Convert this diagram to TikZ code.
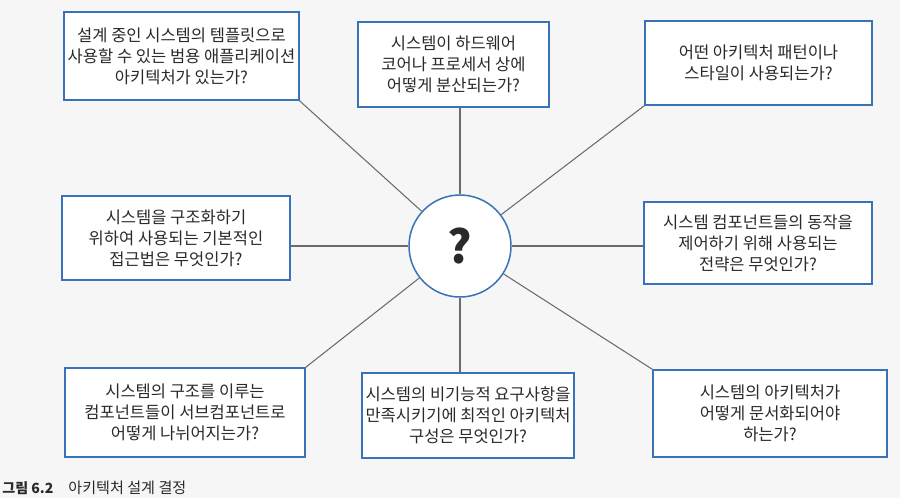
\documentclass[tikz,border=0pt]{standalone}
\usepackage{fontspec}
\setmainfont{Noto Sans CJK KR}
\usepackage{tikz}
\usetikzlibrary{positioning}
\definecolor{FrameBlue}{HTML}{3A72B8}
\definecolor{SpokeGray}{HTML}{6B6B6B}
\definecolor{InkText}{HTML}{2A2A2A}
\definecolor{PaperGray}{HTML}{F6F6F6}

\begin{document}
\begin{tikzpicture}[
  x=0.02cm, y=-0.02cm,
  % ── question box ────────────────────────────────────────────────────────
  qbox/.style={
    draw=FrameBlue, fill=white, line width=0.85pt,
    align=center, inner sep=2pt,
    text=InkText, font=\fontsize{9.4}{11.9}\selectfont
  },
  % ── central decision circle ─────────────────────────────────────────────
  hub/.style={
    circle, draw=FrameBlue, fill=white, line width=0.85pt,
    minimum size=2.04cm, inner sep=0pt,
    text=InkText, font=\fontsize{26}{28}\selectfont\bfseries
  },
  % ── spokes ──────────────────────────────────────────────────────────────
  spoke/.style={draw=SpokeGray, line width=0.6pt},
  caption/.style={anchor=west, inner sep=0pt, text=InkText},
]

%% ── Page background (fixes the bounding box) ──
\fill[PaperGray] (0,0) rectangle (900,498);

%% ── Centre ──
\node[hub] (Q) at (460,246) {?};

%% ── Question boxes, clockwise from top left ──
\node[qbox, minimum width=4.62cm, minimum height=1.76cm] (TPL)  at (181.5,56)
  {설계 중인 시스템의 템플릿으로\\사용할 수 있는 범용 애플리케이션\\아키텍처가 있는가?};
\node[qbox, minimum width=3.82cm, minimum height=1.70cm] (DIST) at (453.5,64.5)
  {시스템이 하드웨어\\코어나 프로세서 상에\\어떻게 분산되는가?};
\node[qbox, minimum width=4.54cm, minimum height=1.68cm] (PAT)  at (758.5,63)
  {어떤 아키텍처 패턴이나\\스타일이 사용되는가?};
\node[qbox, minimum width=4.56cm, minimum height=1.64cm] (CTRL) at (758,243)
  {시스템 컴포넌트들의 동작을\\제어하기 위해 사용되는\\전략은 무엇인가?};
\node[qbox, minimum width=4.68cm, minimum height=1.74cm] (DOC)  at (770,413.5)
  {시스템의 아키텍처가\\어떻게 문서화되어야\\하는가?};
\node[qbox, minimum width=4.20cm, minimum height=1.70cm] (NFR)  at (468,415.5)
  {시스템의 비기능적 요구사항을\\만족시키기에 최적인 아키텍처\\구성은 무엇인가?};
\node[qbox, minimum width=4.80cm, minimum height=1.78cm] (DEC)  at (185,412.5)
  {시스템의 구조를 이루는\\컴포넌트들이 서브컴포넌트로\\어떻게 나뉘어지는가?};
\node[qbox, minimum width=4.56cm, minimum height=1.68cm] (APP)  at (176,238)
  {시스템을 구조화하기\\위하여 사용되는 기본적인\\접근법은 무엇인가?};

%% ── Spokes from the centre ──
\draw[spoke] (Q) -- (TPL.south east);
\draw[spoke] (Q.north) -- (Q.north |- DIST.south);
\draw[spoke] (Q) -- (PAT.south west);
\draw[spoke] (Q.east) -- (Q.east -| CTRL.west);
\draw[spoke] (Q) -- (DOC.north west);
\draw[spoke] (Q.south) -- (Q.south |- NFR.north);
\draw[spoke] (Q) -- (DEC.north east);
\draw[spoke] (Q.west) -- (Q.west -| APP.east);

%% ── Caption ──
\node[caption, font=\fontsize{8}{9}\selectfont\bfseries] (CAPNUM) at (2,488)
  {그림 6.2};
\node[caption, font=\fontsize{8.6}{9}\selectfont] (CAPTXT) at (68,488)
  {아키텍처 설계 결정};

\end{tikzpicture}
\end{document}
